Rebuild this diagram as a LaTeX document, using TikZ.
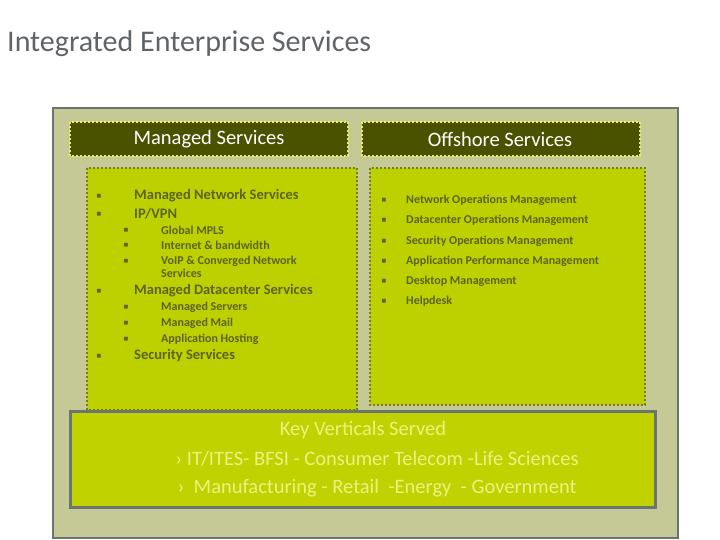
\documentclass[tikz,border=0pt]{standalone}
\usepackage{fontspec}
\setmainfont{Carlito}
\newfontfamily\dejavu{DejaVu Sans}
\definecolor{frame}{HTML}{C5C996}
\definecolor{framel}{HTML}{6B7470}
\definecolor{hdr}{HTML}{4A5200}
\definecolor{hdrl}{HTML}{E8F060}
\definecolor{panel}{HTML}{BDD000}
\definecolor{panell}{HTML}{7A7A20}
\definecolor{txt}{HTML}{5B6420}
\definecolor{ktxt}{HTML}{F0F080}
\definecolor{ttl}{HTML}{606468}
\tikzset{
 hdrbox/.style={draw=hdrl,fill=hdr,line width=2.5pt,dash pattern=on 2pt off 2pt},
 panelbox/.style={draw=panell,fill=panel,line width=2.5pt,dash pattern=on 2pt off 2pt},
 it/.style={anchor=west,text=txt,font=\fontsize{14.5}{14.5}\selectfont\bfseries,inner sep=0},
 sit/.style={anchor=west,text=txt,font=\fontsize{12}{10.5}\selectfont\bfseries,inner sep=0},
 bul/.style={text=txt,font=\dejavu\fontsize{5}{5}\selectfont,inner sep=0},
 ktx/.style={text=ktxt,font=\fontsize{20.5}{20.5}\selectfont,inner sep=0},
}
\begin{document}
\begin{tikzpicture}[x=1pt,y=-1pt]
\useasboundingbox[fill=white] (0,0) rectangle (720,540);
\node[anchor=west,text=ttl,font=\fontsize{30}{30}\selectfont,inner sep=0] (title) at (7,44) {Integrated Enterprise Services};
\draw[fill=frame,draw=framel,line width=2pt] (53,108) rectangle (678,538);
\draw[hdrbox] (70,122) rectangle (348,156);
\node[text=white,font=\fontsize{20.5}{20.5}\selectfont] (ms) at (209,139) {Managed Services};
\draw[hdrbox] (362,122) rectangle (640,156);
\node[text=white,font=\fontsize{20.5}{20.5}\selectfont] (os) at (500,139) {Offshore Services};
\draw[panelbox] (87,168) rectangle (357,410);
\draw[panelbox] (370,168) rectangle (645,405);
% left list
\foreach \y/\t in {196/{Managed Network Services},214/{IP/VPN},291/{Managed Datacenter Services},356/{Security Services}}{
 \node[bul] at (99,\y) {■}; \node[it] at (134,\y) {\t};}
\foreach \y/\t in {230/{Global MPLS},245/{Internet \& bandwidth},261/{VoIP \& Converged Network},307/{Managed Servers},323/{Managed Mail},339/{Application Hosting}}{
 \node[bul] at (126,\y) {■}; \node[sit] at (161,\y) {\t};}
\node[sit] at (161,273) {Services};
% right list
\foreach \y/\t in {200/{Network Operations Management},220/{Datacenter Operations Management},241/{Security Operations Management},261/{Application Performance Management},281/{Desktop Management},301/{Helpdesk}}{
 \node[bul] at (384,\y) {■}; \node[sit] at (406,\y) {\t};}
\draw[fill=panel!95!yellow,draw=framel,line width=3pt] (70,411) rectangle (655,507);
\node[ktx] (kv) at (363,430) {Key Verticals Served};
\node[ktx] (l1) at (377,459) {› IT/ITES- BFSI - Consumer Telecom -Life Sciences};
\node[ktx] (l2) at (377,488) {›\ \ Manufacturing - Retail \ -Energy \ - Government};
\end{tikzpicture}
\end{document}
